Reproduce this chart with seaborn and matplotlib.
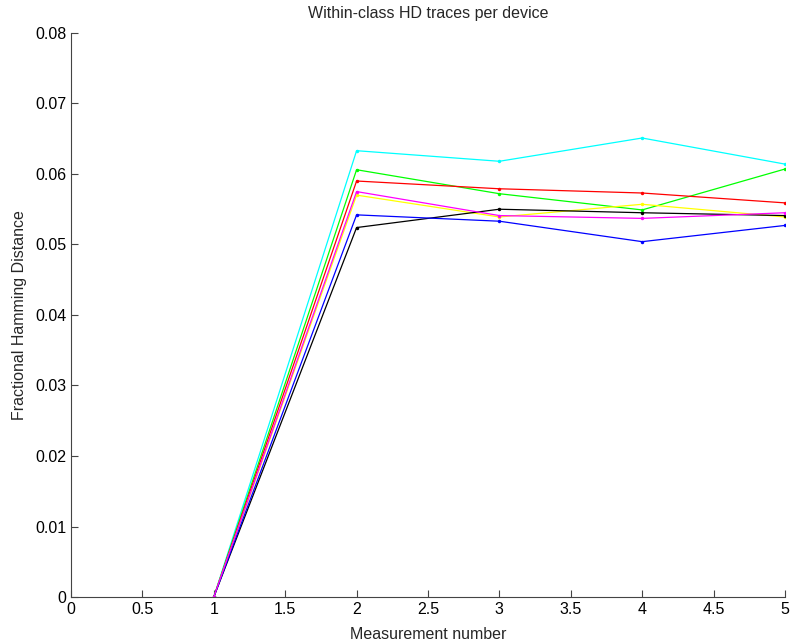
import matplotlib
matplotlib.use("Agg")
import matplotlib.pyplot as plt
import seaborn as sns
import pandas as pd

measurements = [1, 2, 3, 4, 5]
devices = ["cyan", "green", "red", "yellow", "black", "blue", "magenta"]
hd_cyan = [0.0, 0.0633, 0.0618, 0.0651, 0.0614]
hd_green = [0.0, 0.0606, 0.0572, 0.0549, 0.0607]
hd_red = [0.0, 0.0590, 0.0579, 0.0573, 0.0559]
hd_yellow = [0.0, 0.0570, 0.0539, 0.0557, 0.0539]
hd_black = [0.0, 0.0524, 0.0550, 0.0545, 0.0541]
hd_blue = [0.0, 0.0542, 0.0533, 0.0504, 0.0527]
hd_magenta = [0.0, 0.0575, 0.0541, 0.0537, 0.0545]
series = [hd_cyan, hd_green, hd_red, hd_yellow, hd_black, hd_blue, hd_magenta]
colors = {"cyan": "#00ffff", "green": "#00ff00", "red": "#ff0000", "yellow": "#ffff00",
          "black": "#000000", "blue": "#0000ff", "magenta": "#ff00ff"}

rows = []
for d, vals in zip(devices, series):
    for m, v in zip(measurements, vals):
        rows.append({"device": d, "measurement": m, "hd": v})
df = pd.DataFrame(rows)

sns.set_style("white")
plt.rcParams['font.family'] = ['Liberation Sans', 'DejaVu Sans']

fig = plt.figure(figsize=(7.9, 6.41), dpi=100)
ax = fig.add_axes([0.0899, 0.0686, 0.9037, 0.88])
sns.lineplot(data=df, x="measurement", y="hd", hue="device", palette=colors,
             hue_order=devices, marker="o", markersize=2.5, markeredgewidth=0,
             linewidth=0.9, legend=False, ax=ax)

ax.set_xlim(0, 5)
ax.set_ylim(0, 0.08)
ax.set_xticks([0, 0.5, 1, 1.5, 2, 2.5, 3, 3.5, 4, 4.5, 5])
ax.set_xticklabels(["0", "0.5", "1", "1.5", "2", "2.5", "3", "3.5", "4", "4.5", "5"])
ax.set_yticks([0, 0.01, 0.02, 0.03, 0.04, 0.05, 0.06, 0.07, 0.08])
ax.set_yticklabels(["0", "0.01", "0.02", "0.03", "0.04", "0.05", "0.06", "0.07", "0.08"])
ax.tick_params(direction="in", length=5, width=0.8, colors="#444444", labelcolor="black",
               labelsize=11.5, left=True, bottom=True)
for s in ["top", "right"]:
    ax.spines[s].set_visible(False)
for s in ["left", "bottom"]:
    ax.spines[s].set_color("#444444")
    ax.spines[s].set_linewidth(0.8)
ax.set_xlabel("Measurement number", fontsize=11.5, labelpad=7)
ax.set_ylabel("Fractional Hamming Distance", fontsize=11.5, labelpad=6)
ax.set_title("Within-class HD traces per device", fontsize=11.5, pad=11)

fig.savefig("out.png", dpi=100)
